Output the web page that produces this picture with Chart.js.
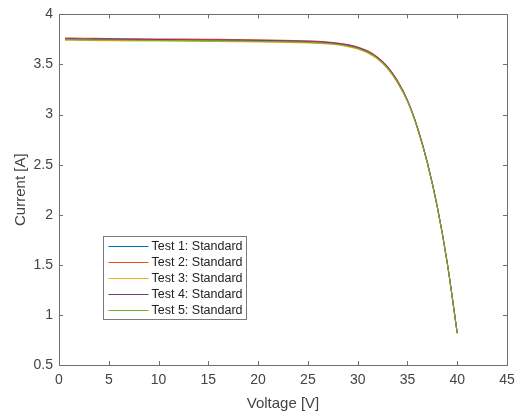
<!DOCTYPE html>
<html>
<head>
<meta charset="utf-8">
<script src="https://cdn.jsdelivr.net/npm/chart.js@4/dist/chart.umd.min.js"></script>
<style>
  html, body { margin: 0; padding: 0; background: #ffffff; }
  #wrap { width: 522px; height: 413px; }
</style>
</head>
<body>
<div id="wrap"><canvas id="ivChart" width="522" height="413"></canvas></div>
<script>
// === I-V curve data ===
const voltage = [0.6, 2.5, 5, 7.5, 10, 12.5, 15, 17.5, 20, 22.5, 25, 26, 27, 28, 29, 30, 31, 32, 33, 34, 35, 36, 37, 38, 39, 40];

const test1 = [3.752, 3.750, 3.748, 3.746, 3.744, 3.742, 3.740, 3.738, 3.735, 3.731, 3.725, 3.721, 3.714, 3.704, 3.688, 3.664, 3.625, 3.563, 3.468, 3.328, 3.138, 2.868, 2.518, 2.078, 1.518, 0.818];
const test2 = [3.764, 3.762, 3.759, 3.757, 3.755, 3.753, 3.751, 3.749, 3.746, 3.742, 3.736, 3.732, 3.725, 3.715, 3.699, 3.675, 3.636, 3.574, 3.479, 3.339, 3.147, 2.876, 2.524, 2.082, 1.521, 0.820];
const test3 = [3.742, 3.740, 3.738, 3.736, 3.734, 3.732, 3.730, 3.728, 3.725, 3.721, 3.715, 3.711, 3.704, 3.694, 3.678, 3.654, 3.615, 3.553, 3.458, 3.318, 3.129, 2.860, 2.512, 2.074, 1.515, 0.816];
const test4 = [3.757, 3.755, 3.753, 3.751, 3.749, 3.747, 3.745, 3.743, 3.740, 3.736, 3.730, 3.726, 3.719, 3.709, 3.693, 3.669, 3.630, 3.568, 3.473, 3.333, 3.142, 2.871, 2.520, 2.079, 1.519, 0.819];
const test5 = [3.748, 3.746, 3.744, 3.742, 3.740, 3.738, 3.736, 3.734, 3.731, 3.727, 3.721, 3.717, 3.710, 3.700, 3.684, 3.660, 3.621, 3.559, 3.464, 3.324, 3.135, 2.865, 2.516, 2.076, 1.517, 0.817];

const seriesNames = ["Test 1: Standard", "Test 2: Standard", "Test 3: Standard", "Test 4: Standard", "Test 5: Standard"];
const seriesColors = ["#0072BD", "#D95319", "#EDB120", "#7E2F8E", "#77AC30"];

const xTicks = [0, 5, 10, 15, 20, 25, 30, 35, 40, 45];
const yTicks = [0.5, 1, 1.5, 2, 2.5, 3, 3.5, 4];

const AXIS_COLOR = "#6f6f6f";
const TEXT_COLOR = "#444444";
const FONT = "'Liberation Sans', Arial, sans-serif";

// pair up voltage with each current series
function toPoints(values) {
  return voltage.map((v, i) => ({ x: v, y: values[i] }));
}

const allSeries = [test1, test2, test3, test4, test5];
const datasets = allSeries.map((vals, i) => ({
  label: seriesNames[i],
  data: toPoints(vals),
  borderColor: seriesColors[i],
  backgroundColor: seriesColors[i],
  borderWidth: 1.1,
  pointRadius: 0,
  fill: false,
  cubicInterpolationMode: "monotone",
  order: allSeries.length - i   // later tests drawn on top
}));

// box around the plot plus inward tick marks on all four sides
const boxAxes = {
  id: "boxAxes",
  afterDatasetsDraw(chart) {
    const { ctx, chartArea: a, scales } = chart;
    const len = 4;
    ctx.save();
    ctx.strokeStyle = AXIS_COLOR;
    ctx.lineWidth = 1;
    ctx.beginPath();
    scales.x.ticks.forEach(t => {
      const px = Math.round(scales.x.getPixelForValue(t.value)) + 0.5;
      ctx.moveTo(px, a.bottom); ctx.lineTo(px, a.bottom - len);
      ctx.moveTo(px, a.top); ctx.lineTo(px, a.top + len);
    });
    scales.y.ticks.forEach(t => {
      const py = Math.round(scales.y.getPixelForValue(t.value)) + 0.5;
      ctx.moveTo(a.left, py); ctx.lineTo(a.left + len, py);
      ctx.moveTo(a.right, py); ctx.lineTo(a.right - len, py);
    });
    ctx.stroke();
    ctx.strokeRect(Math.round(a.left) + 0.5, Math.round(a.top) + 0.5,
                   Math.round(a.right - a.left), Math.round(a.bottom - a.top));
    ctx.restore();
  }
};

// legend box drawn inside the lower-left of the plot
const insideLegend = {
  id: "insideLegend",
  afterDatasetsDraw(chart) {
    const { ctx, chartArea: a } = chart;
    const x0 = Math.round(a.left) + 44.5;
    const y0 = Math.round(a.top) + 222.5;
    const w = 143, h = 83;
    const rowH = 16;
    ctx.save();
    ctx.fillStyle = "#ffffff";
    ctx.fillRect(x0, y0, w, h);
    ctx.strokeStyle = "#7a7a7a";
    ctx.lineWidth = 1;
    ctx.strokeRect(x0, y0, w, h);
    ctx.font = "12.5px " + FONT;
    ctx.textBaseline = "middle";
    ctx.fillStyle = "#222222";
    chart.data.datasets.forEach((ds, i) => {
      const cy = Math.round(y0 + 9 + i * rowH) + 0.5;
      ctx.strokeStyle = ds.borderColor;
      ctx.beginPath();
      ctx.moveTo(x0 + 5, cy);
      ctx.lineTo(x0 + 45, cy);
      ctx.stroke();
      ctx.fillText(ds.label, x0 + 48, cy);
    });
    ctx.restore();
  }
};

const ctx = document.getElementById("ivChart").getContext("2d");

new Chart(ctx, {
  type: "line",
  data: { datasets: datasets },
  options: {
    responsive: false,
    animation: false,
    layout: { padding: { top: 12, right: 15, left: 0, bottom: 0 } },
    plugins: {
      legend: { display: false },
      tooltip: { enabled: false }
    },
    scales: {
      x: {
        type: "linear",
        min: 0,
        max: 45,
        afterBuildTicks(scale) { scale.ticks = xTicks.map(v => ({ value: v })); },
        afterFit(scale) { scale.height = 48; },
        grid: { display: false, drawTicks: false },
        border: { display: false },
        ticks: {
          padding: 7,
          color: TEXT_COLOR,
          font: { family: FONT, size: 14 },
          maxRotation: 0,
          callback: (v) => String(v)
        },
        title: {
          display: true,
          text: "Voltage [V]",
          color: TEXT_COLOR,
          font: { family: FONT, size: 15 },
          padding: { top: 0, bottom: 0 }
        }
      },
      y: {
        type: "linear",
        min: 0.5,
        max: 4,
        afterBuildTicks(scale) { scale.ticks = yTicks.map(v => ({ value: v })); },
        afterFit(scale) { scale.width = 59; },
        grid: { display: false, drawTicks: false },
        border: { display: false },
        ticks: {
          padding: 6,
          color: TEXT_COLOR,
          font: { family: FONT, size: 14 },
          callback: (v) => String(v)
        },
        title: {
          display: true,
          text: "Current [A]",
          color: TEXT_COLOR,
          font: { family: FONT, size: 15 },
          padding: { top: 12, bottom: 0 }
        }
      }
    }
  },
  plugins: [boxAxes, insideLegend]
});
</script>
</body>
</html>
